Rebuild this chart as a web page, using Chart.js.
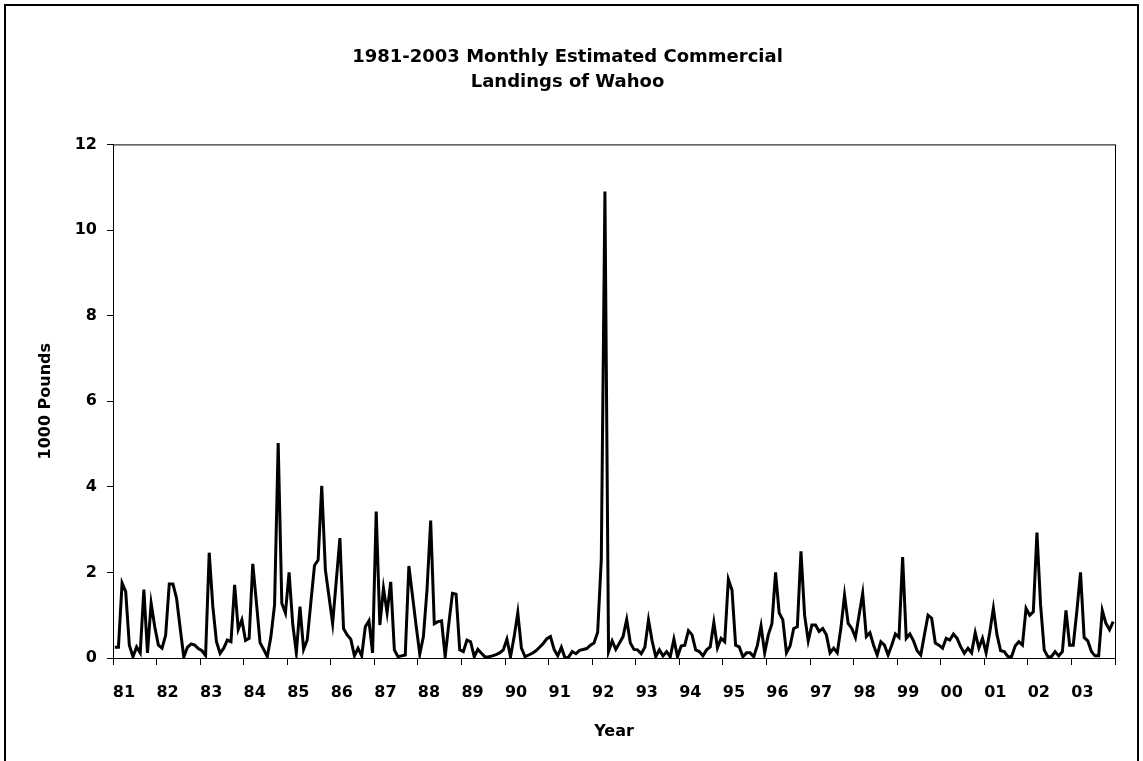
<!DOCTYPE html>
<html>
<head>
<meta charset="utf-8">
<script src="https://cdn.jsdelivr.net/npm/chart.js@4.4.1/dist/chart.umd.min.js"></script>
<style>
  html, body { margin: 0; padding: 0; background: #fff; }
</style>
</head>
<body>
<canvas id="wahooChart" width="1143" height="761"></canvas>
<script>
// Monthly landings (1000 pounds), Jan..Dec of each year
const y1981 = [0.25, 0.25, 1.75, 1.55, 0.3, 0.03, 0.26, 0.12, 1.6, 0.12, 1.28, 0.73];
const y1982 = [0.3, 0.23, 0.53, 1.73, 1.73, 1.4, 0.7, 0.02, 0.25, 0.33, 0.3, 0.22];
const y1983 = [0.17, 0.06, 2.46, 1.2, 0.38, 0.11, 0.23, 0.42, 0.38, 1.71, 0.67, 0.89];
const y1984 = [0.41, 0.46, 2.2, 1.3, 0.36, 0.2, 0.03, 0.5, 1.24, 5.02, 1.28, 1.05];
const y1985 = [2.0, 0.8, 0.12, 1.2, 0.2, 0.42, 1.3, 2.16, 2.29, 4.02, 2.06, 1.43];
const y1986 = [0.81, 1.8, 2.8, 0.69, 0.54, 0.44, 0.05, 0.23, 0.05, 0.73, 0.87, 0.12];
const y1987 = [3.42, 0.77, 1.63, 1.06, 1.78, 0.19, 0.03, 0.05, 0.07, 2.15, 1.45, 0.75];
const y1988 = [0.09, 0.5, 1.6, 3.21, 0.8, 0.85, 0.87, 0.03, 0.8, 1.51, 1.49, 0.19];
const y1989 = [0.15, 0.42, 0.38, 0.03, 0.2, 0.11, 0.02, 0.03, 0.05, 0.08, 0.12, 0.19];
const y1990 = [0.44, 0.03, 0.5, 1.06, 0.23, 0.03, 0.07, 0.11, 0.17, 0.25, 0.34, 0.45];
const y1991 = [0.5, 0.2, 0.05, 0.25, 0.0, 0.02, 0.15, 0.1, 0.18, 0.2, 0.22, 0.3];
const y1992 = [0.35, 0.6, 2.3, 10.9, 0.15, 0.4, 0.2, 0.35, 0.5, 0.9, 0.35, 0.2];
const y1993 = [0.19, 0.1, 0.25, 0.89, 0.4, 0.03, 0.19, 0.05, 0.15, 0.03, 0.44, 0.03];
const y1994 = [0.28, 0.3, 0.64, 0.54, 0.19, 0.15, 0.05, 0.19, 0.26, 0.83, 0.24, 0.46];
const y1995 = [0.38, 1.84, 1.59, 0.3, 0.26, 0.03, 0.12, 0.12, 0.03, 0.3, 0.75, 0.12];
const y1996 = [0.54, 0.8, 2.0, 1.05, 0.89, 0.12, 0.28, 0.69, 0.73, 2.49, 1.0, 0.4];
const y1997 = [0.77, 0.77, 0.62, 0.69, 0.54, 0.12, 0.23, 0.12, 0.7, 1.47, 0.81, 0.69];
const y1998 = [0.48, 1.0, 1.51, 0.5, 0.59, 0.3, 0.07, 0.38, 0.3, 0.07, 0.3, 0.56];
const y1999 = [0.48, 2.36, 0.46, 0.56, 0.4, 0.17, 0.07, 0.54, 1.0, 0.93, 0.35, 0.3];
const y2000 = [0.23, 0.46, 0.42, 0.56, 0.46, 0.26, 0.11, 0.23, 0.12, 0.59, 0.23, 0.46];
const y2001 = [0.12, 0.6, 1.16, 0.54, 0.17, 0.15, 0.03, 0.03, 0.28, 0.38, 0.3, 1.16];
const y2002 = [1.0, 1.08, 2.93, 1.24, 0.19, 0.03, 0.03, 0.15, 0.05, 0.15, 1.11, 0.3];
const y2003 = [0.3, 1.1, 2.0, 0.48, 0.4, 0.15, 0.05, 0.05, 1.11, 0.81, 0.66, 0.85];

const yearLabels = ['81', '82', '83', '84', '85', '86', '87', '88', '89', '90', '91', '92',
                    '93', '94', '95', '96', '97', '98', '99', '00', '01', '02', '03'];
const yTicks = [0, 2, 4, 6, 8, 10, 12];

const years = [y1981, y1982, y1983, y1984, y1985, y1986, y1987, y1988, y1989, y1990, y1991, y1992,
               y1993, y1994, y1995, y1996, y1997, y1998, y1999, y2000, y2001, y2002, y2003];

// month i sits in the middle of its slot on a 0..276 axis
const points = [];
years.forEach((yr, k) => yr.forEach((v, m) => points.push({ x: k * 12 + m + 0.5, y: v })));

const boldFont = (size) => ({ family: 'DejaVu Sans, Verdana, sans-serif', size: size, weight: 'bold' });

// plot-area box and the outer chart frame
const framePlugin = {
    id: 'frame',
    afterDraw(chart) {
        const { ctx, chartArea: a } = chart;
        ctx.save();
        ctx.strokeStyle = '#000';
        ctx.lineWidth = 1;
        ctx.strokeRect(a.left + 0.5, a.top + 0.5, a.right - a.left, a.bottom - a.top);
        ctx.lineWidth = 2;
        ctx.beginPath();
        ctx.moveTo(5, 780);
        ctx.lineTo(5, 5);
        ctx.lineTo(1138, 5);
        ctx.lineTo(1138, 780);
        ctx.stroke();
        ctx.restore();
    }
};

const ctx = document.getElementById('wahooChart').getContext('2d');
new Chart(ctx, {
    type: 'line',
    data: {
        datasets: [{
            data: points,
            borderColor: '#000',
            borderWidth: 3,
            pointRadius: 0,
            tension: 0,
            fill: false
        }]
    },
    options: {
        responsive: false,
        animation: false,
        devicePixelRatio: 1,
        layout: { padding: { top: 30, left: 20, right: 28, bottom: 0 } },
        plugins: {
            legend: { display: false },
            tooltip: { enabled: false },
            title: {
                display: true,
                text: ['1981-2003 Monthly Estimated Commercial', 'Landings of Wahoo'],
                color: '#000',
                font: { family: 'DejaVu Sans, Verdana, sans-serif', size: 18, weight: 'bold', lineHeight: 1.4 },
                padding: { top: 15, bottom: 49 }
            }
        },
        scales: {
            x: {
                type: 'linear',
                min: 0,
                max: 276,
                afterFit: (s) => { s.height = 103; },
                afterBuildTicks: (s) => {
                    s.ticks = [];
                    for (let v = 0; v <= 276; v += 12) s.ticks.push({ value: v });
                },
                ticks: {
                    autoSkip: false,
                    maxRotation: 0,
                    color: '#000',
                    font: boldFont(16),
                    padding: 18,
                    labelOffset: 11,
                    callback: (v) => yearLabels[v / 12] || ''
                },
                grid: { drawOnChartArea: false, color: '#000', tickLength: 7 },
                border: { color: '#000', width: 1 },
                title: {
                    display: true,
                    text: 'Year',
                    color: '#000',
                    font: boldFont(16),
                    padding: { top: 0, bottom: 20 }
                }
            },
            y: {
                min: 0,
                max: 12,
                afterFit: (s) => { s.width = 93; },
                afterBuildTicks: (s) => { s.ticks = yTicks.map(v => ({ value: v })); },
                ticks: { color: '#000', font: boldFont(16), padding: 10 },
                grid: { drawOnChartArea: false, color: '#000', tickLength: 6 },
                border: { color: '#000', width: 1 },
                title: {
                    display: true,
                    text: '1000 Pounds',
                    color: '#000',
                    font: boldFont(16),
                    padding: { top: 16, bottom: 0 }
                }
            }
        }
    },
    plugins: [framePlugin]
});
</script>
</body>
</html>
